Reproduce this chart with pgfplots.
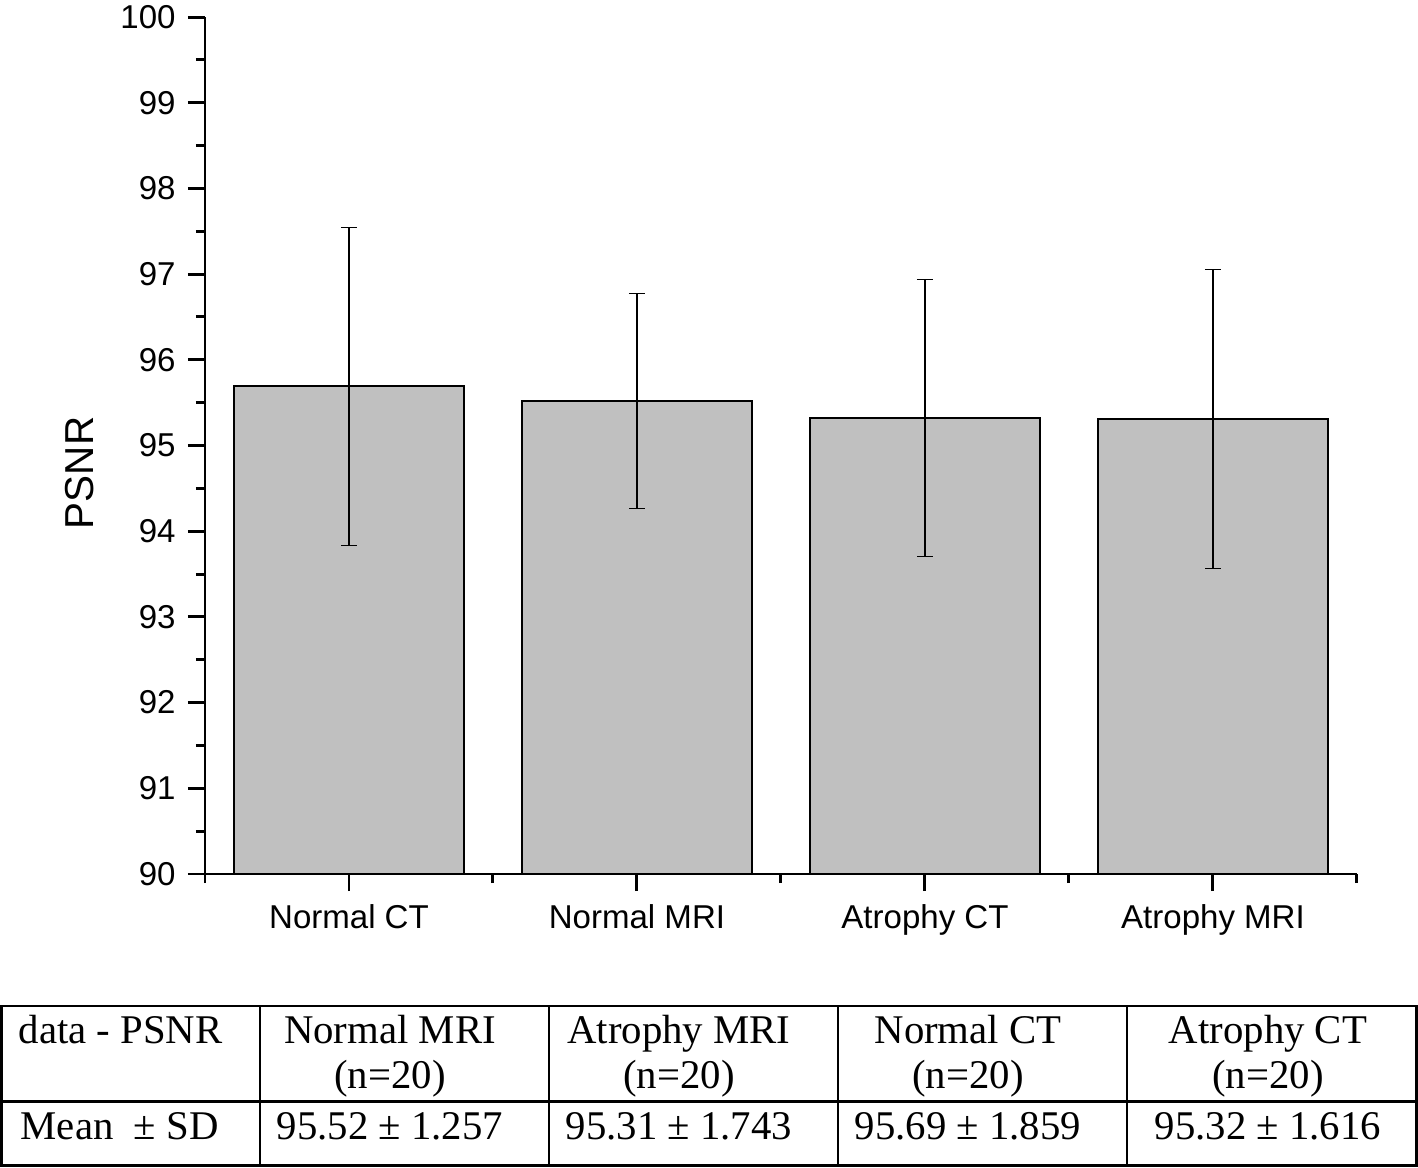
\documentclass[border=0pt]{standalone}
\usepackage{fontspec}
\setmainfont{Liberation Serif}
\newfontfamily\arialfont{Liberation Sans}
\usepackage{pgfplots}
\pgfplotsset{compat=1.18}
\definecolor{barfill}{RGB}{192,192,192}
\begin{document}
\begin{tikzpicture}
\begin{axis}[
  at={(0,0)}, anchor=south west,
  scale only axis, width=115.2mm, height=85.7mm,
  xmin=-0.5, xmax=3.5, ymin=90, ymax=100,
  axis x line*=bottom, axis y line*=left,
  axis line style={line width=0.85pt},
  tick style={line width=0.85pt, black},
  tick align=outside,
  major tick length=1.7mm, minor tick length=0.9mm,
  xtick={0,1,2,3},
  xticklabels={Normal CT, Normal MRI, Atrophy CT, Atrophy MRI},
  minor xtick={-0.5,0.5,1.5,2.5,3.5},
  ytick={90,91,...,100}, minor y tick num=1,
  tick label style={font=\arialfont\fontsize{9.4}{10}\selectfont},
  xticklabel style={yshift=-0.1mm},
  /pgf/number format/assume math mode=true,
  ylabel={PSNR},
  every axis y label/.style={at={(axis description cs:-0.109,0.468)}, rotate=90, anchor=center, font=\arialfont\fontsize{11.5}{14}\selectfont},
]
\addplot[ybar, bar width=23mm, fill=barfill, draw=black, line width=0.55pt,
  error bars/.cd, y dir=both, y explicit,
  error bar style={line width=0.3pt, black},
  error mark options={rotate=90, mark size=0.8mm, line width=0.3pt, black}]
  coordinates {(0,95.69) +- (0,1.859) (1,95.52) +- (0,1.257) (2,95.32) +- (0,1.616) (3,95.31) +- (0,1.743)};
\end{axis}
\begin{scope}[x=0.1mm, y=-0.1mm, shift={(-205,-874)}, every node/.style={font=\fontsize{11.6}{13}\selectfont, inner sep=0pt}]
  \draw[line width=0.85pt] (1.5,1006) rectangle (1416.5,1165);
  \draw[line width=0.85pt] (1.5,1101) -- (1416.5,1101);
  \foreach \xx in {260,549,838,1127} \draw[line width=0.85pt] (\xx,1006) -- (\xx,1165);
  \node[anchor=base west] at (18,1043) {data - PSNR};
  \node[anchor=base west] at (20,1139) {Mean\ \ ± SD};
  \node[anchor=base] at (390,1043) {Normal MRI};
  \node[anchor=base] at (390,1088) {(n=20)};
  \node[anchor=base] at (679,1043) {Atrophy MRI};
  \node[anchor=base] at (679,1088) {(n=20)};
  \node[anchor=base] at (968,1043) {Normal CT};
  \node[anchor=base] at (968,1088) {(n=20)};
  \node[anchor=base] at (1268,1043) {Atrophy CT};
  \node[anchor=base] at (1268,1088) {(n=20)};
  \node[anchor=base] at (390,1139) {95.52 ± 1.257};
  \node[anchor=base] at (679,1139) {95.31 ± 1.743};
  \node[anchor=base] at (968,1139) {95.69 ± 1.859};
  \node[anchor=base] at (1268,1139) {95.32 ± 1.616};
  \pgfresetboundingbox
  \path (0,0) rectangle (1418,1167);
\end{scope}
\end{tikzpicture}
\end{document}
